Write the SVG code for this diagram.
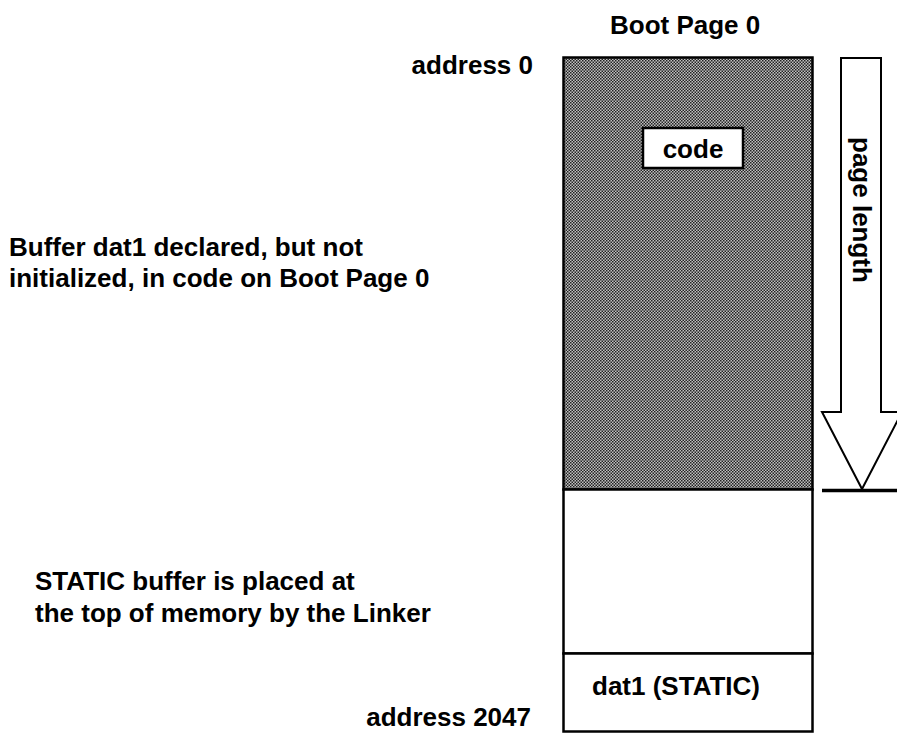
<svg xmlns="http://www.w3.org/2000/svg" width="897" height="734" viewBox="0 0 897 734">
<style>
text{font-family:"Liberation Sans",Arial,sans-serif;font-weight:bold;font-size:26px;fill:#000}
.box{fill:#fff;stroke:#000;stroke-width:2.5}
</style>
<defs>
<pattern id="dots" width="3" height="3" patternUnits="userSpaceOnUse">
<rect width="3" height="3" fill="#c0c0c0"/>
<rect width="1.5" height="1.5" fill="#222"/>
<rect x="1.5" y="1.5" width="1.5" height="1.5" fill="#222"/>
</pattern>
</defs>
<rect width="897" height="734" fill="#fff"/>
<text x="610" y="34">Boot Page 0</text>
<text x="533" y="74" text-anchor="end">address 0</text>
<text x="9" y="256">Buffer dat1 declared, but not</text>
<text x="9" y="287">initialized, in code on Boot Page 0</text>
<text x="35" y="590">STATIC buffer is placed at</text>
<text x="35" y="622">the top of memory by the Linker</text>
<text x="531" y="726" font-size="25" text-anchor="end">address 2047</text>
<g id="page0">
<rect x="563.5" y="57.5" width="249" height="432" fill="url(#dots)" stroke="#000" stroke-width="2.5"/>
</g>
<g id="free">
<rect x="563.5" y="489.5" width="249" height="164" class="box"/>
</g>
<g id="dat1">
<rect x="563.5" y="653.5" width="249" height="78" class="box"/>
<text x="592" y="695">dat1 (STATIC)</text>
</g>
<g id="code">
<rect x="643" y="128" width="100" height="40" class="box"/>
<text x="693" y="158" text-anchor="middle">code</text>
</g>
<g id="connectors">
<polygon points="841,58 881,58 881,412 902,412 862,489 822,412 841,412" fill="#fff" stroke="#000" stroke-width="2"/>
<line x1="822" y1="490.5" x2="897" y2="490.5" stroke="#000" stroke-width="3.5"/>
<text transform="translate(853,137) rotate(90)">page length</text>
</g>
</svg>
